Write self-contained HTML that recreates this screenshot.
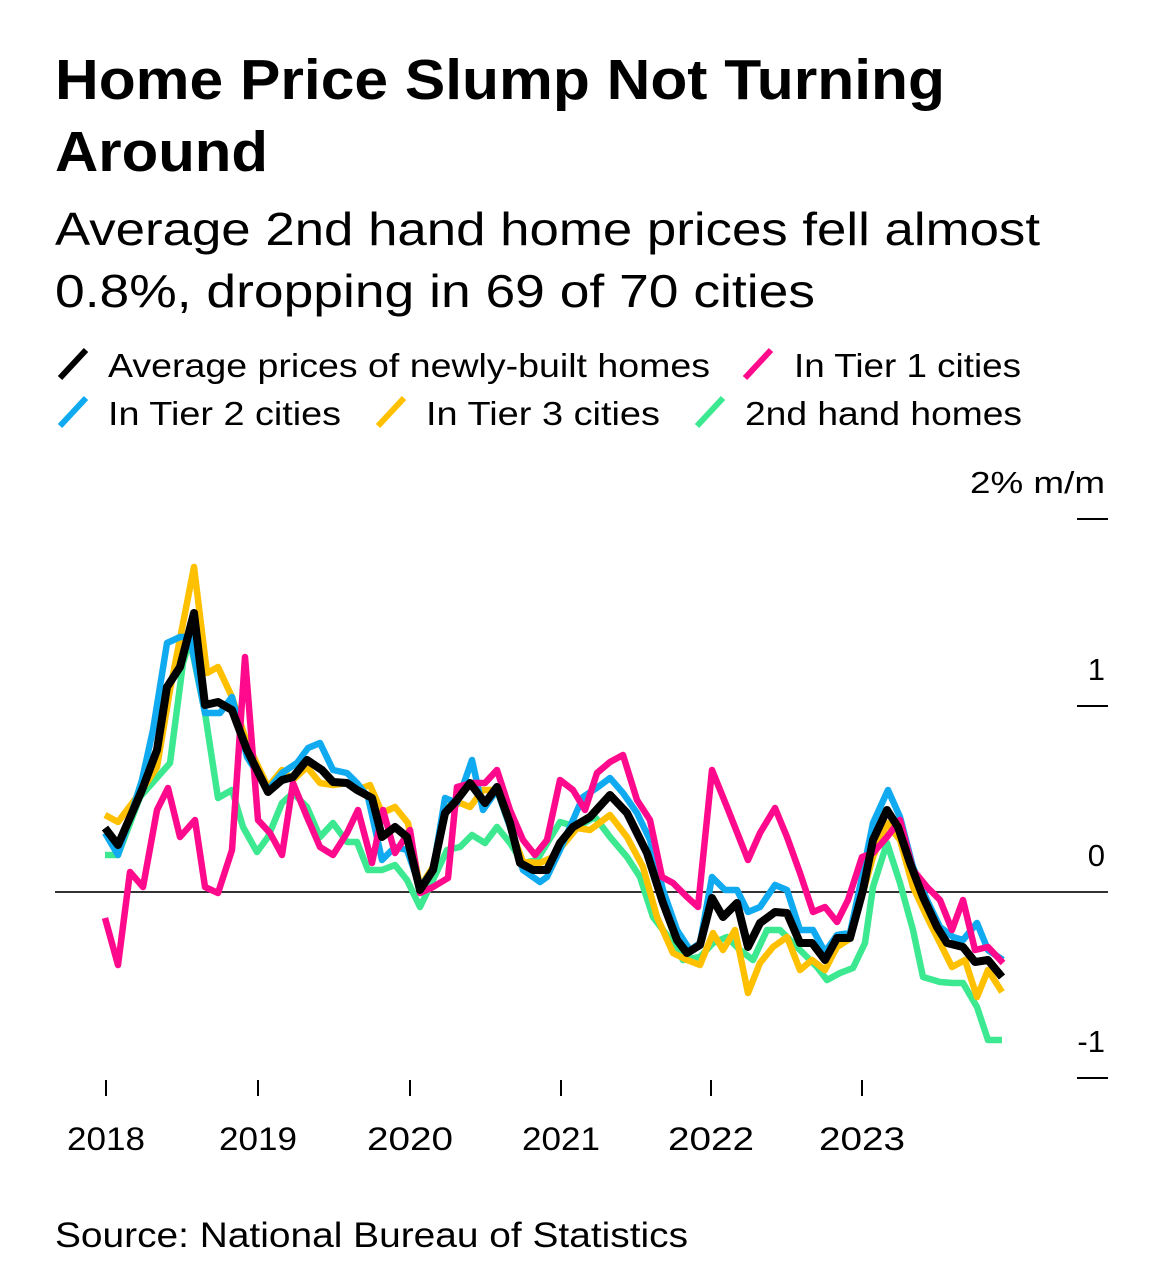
<!DOCTYPE html>
<html><head><meta charset="utf-8"><style>
body{margin:0;background:#fff;width:1170px;height:1277px;overflow:hidden;font-family:"Liberation Sans",sans-serif}
</style></head><body>
<svg width="1170" height="1277" xmlns="http://www.w3.org/2000/svg" font-family="Liberation Sans, sans-serif">
<text x="55" y="99" font-size="57" font-weight="bold" fill="#000" textLength="890" lengthAdjust="spacingAndGlyphs">Home Price Slump Not Turning</text>
<text x="55" y="171" font-size="57" font-weight="bold" fill="#000" textLength="213" lengthAdjust="spacingAndGlyphs">Around</text>
<text x="55" y="245" font-size="46" fill="#000" textLength="985" lengthAdjust="spacingAndGlyphs">Average 2nd hand home prices fell almost</text>
<text x="55" y="307" font-size="46" fill="#000" textLength="760" lengthAdjust="spacingAndGlyphs">0.8%, dropping in 69 of 70 cities</text>
<g font-size="33" fill="#000">
<line x1="60" y1="378" x2="86" y2="350" stroke="#000" stroke-width="6"/><text x="108" y="377" textLength="602" lengthAdjust="spacingAndGlyphs">Average prices of newly-built homes</text>
<line x1="745" y1="378" x2="771" y2="350" stroke="#ff0a8c" stroke-width="6"/><text x="794" y="377" textLength="227" lengthAdjust="spacingAndGlyphs">In Tier 1 cities</text>
<line x1="60" y1="426" x2="86" y2="398" stroke="#10aaf0" stroke-width="6"/><text x="108" y="425" textLength="233" lengthAdjust="spacingAndGlyphs">In Tier 2 cities</text>
<line x1="378" y1="426" x2="404" y2="398" stroke="#ffc000" stroke-width="6"/><text x="426" y="425" textLength="234" lengthAdjust="spacingAndGlyphs">In Tier 3 cities</text>
<line x1="697" y1="426" x2="723" y2="398" stroke="#3ce890" stroke-width="6"/><text x="745" y="425" textLength="277" lengthAdjust="spacingAndGlyphs">2nd hand homes</text>
</g>
<g font-size="31" fill="#000" text-anchor="end">
<text x="1105" y="493" textLength="135" lengthAdjust="spacingAndGlyphs">2% m/m</text>
<text x="1105" y="680">1</text>
<text x="1105" y="866">0</text>
<text x="1105" y="1052">-1</text>
</g>
<g stroke="#000" stroke-width="2">
<line x1="1077" y1="519" x2="1108" y2="519"/>
<line x1="1077" y1="706" x2="1108" y2="706"/>
<line x1="1077" y1="1078" x2="1108" y2="1078"/>
<line x1="55" y1="892" x2="1108" y2="892" stroke="#333"/>
<line x1="106" y1="1080" x2="106" y2="1096"/><line x1="258" y1="1080" x2="258" y2="1096"/>
<line x1="410" y1="1080" x2="410" y2="1096"/><line x1="561" y1="1080" x2="561" y2="1096"/>
<line x1="711" y1="1080" x2="711" y2="1096"/><line x1="862" y1="1080" x2="862" y2="1096"/>
</g>
<g font-size="32" fill="#000" text-anchor="middle">
<text x="106" y="1150" textLength="78" lengthAdjust="spacingAndGlyphs">2018</text><text x="258" y="1150" textLength="78" lengthAdjust="spacingAndGlyphs">2019</text><text x="410" y="1150" textLength="86" lengthAdjust="spacingAndGlyphs">2020</text>
<text x="561" y="1150" textLength="78" lengthAdjust="spacingAndGlyphs">2021</text><text x="711" y="1150" textLength="86" lengthAdjust="spacingAndGlyphs">2022</text><text x="862" y="1150" textLength="86" lengthAdjust="spacingAndGlyphs">2023</text>
</g>
<g fill="none" stroke-width="6.5" stroke-linejoin="round">
<polyline stroke="#3ce890" points="105,855 118,855 140,797 155,780 170,763 183,663 190,640 205,713 218,798 232,790 243,827 257,852 268,837 282,803 293,793 307,807 320,837 333,823 347,842 357,842 368,870 382,870 395,865 407,880 420,907 433,880 447,850 460,847 472,835 485,843 497,827 510,843 523,863 537,860 560,822 577,827 595,817 610,837 627,857 640,877 653,917 673,943 683,960 700,957 713,943 727,937 740,950 753,960 767,930 780,930 793,943 807,957 817,967 827,980 840,973 853,968 865,943 873,887 887,843 900,883 913,930 923,977 940,982 953,983 963,983 977,1007 988,1040 1002,1040"/>
<polyline stroke="#ffc000" points="105,815 118,822 142,790 157,767 170,690 194,567 207,673 218,667 232,697 247,743 268,787 282,770 293,780 307,767 320,783 333,785 347,783 357,790 370,785 382,813 395,807 408,823 420,887 433,867 447,807 460,803 470,807 483,790 497,790 510,827 523,862 540,863 553,857 577,828 590,830 610,815 627,837 643,867 657,917 673,953 687,960 700,965 713,933 723,950 735,930 748,993 760,963 773,947 787,937 800,970 812,960 825,970 837,947 848,940 860,903 873,857 887,823 900,840 913,887 927,917 940,943 952,967 965,960 977,997 988,970 1002,992"/>
<polyline stroke="#10aaf0" points="105,833 118,855 142,780 153,730 167,643 180,637 190,637 205,713 220,713 232,697 247,757 268,790 282,773 297,763 308,748 320,743 333,770 347,773 357,783 368,797 382,860 395,847 407,850 420,887 433,870 445,798 457,803 472,760 483,810 497,790 510,827 523,870 540,882 547,877 560,850 583,797 598,787 610,778 623,793 637,813 650,840 663,890 677,930 690,950 700,943 712,877 725,890 737,890 748,912 760,907 775,885 787,890 800,930 813,930 825,952 837,935 850,933 862,877 873,823 888,790 900,817 913,867 927,900 940,927 953,937 963,940 977,923 988,950 1003,960"/>
<polyline stroke="#ff0a8c" points="105,918 118,965 130,872 143,887 157,810 168,788 180,837 195,820 205,887 218,893 232,850 245,657 258,820 270,833 282,855 293,783 307,817 320,847 333,855 347,833 358,810 372,863 383,810 395,853 410,830 420,893 433,887 448,878 457,787 472,783 485,783 497,770 510,810 523,840 535,855 547,840 560,780 573,790 585,810 597,773 610,762 623,755 637,800 650,820 662,877 673,883 687,897 698,907 712,770 727,807 748,860 760,833 775,808 787,837 800,873 813,912 825,907 837,922 848,900 862,857 873,853 887,837 900,820 913,870 927,887 940,900 952,930 963,900 975,950 988,947 1003,963"/>
<polyline stroke="#000" stroke-width="8" points="105,828 118,845 142,790 157,750 167,687 180,667 194,613 205,705 218,702 232,710 247,750 268,792 282,780 293,777 307,760 322,770 333,782 347,783 357,790 372,798 382,837 395,827 407,837 420,890 433,870 445,813 457,800 470,783 485,803 497,787 510,823 520,863 533,870 547,870 560,843 573,827 590,817 610,795 627,813 647,853 663,903 677,940 687,953 700,945 712,898 723,917 737,903 748,947 760,923 775,912 787,913 800,943 812,943 825,960 837,938 850,938 863,890 873,840 887,810 898,827 910,863 923,897 937,927 947,943 963,947 975,962 988,960 1002,977"/>
</g>
<text x="55" y="1247" font-size="35" fill="#000" textLength="633" lengthAdjust="spacingAndGlyphs">Source: National Bureau of Statistics</text>
</svg>
</body></html>
